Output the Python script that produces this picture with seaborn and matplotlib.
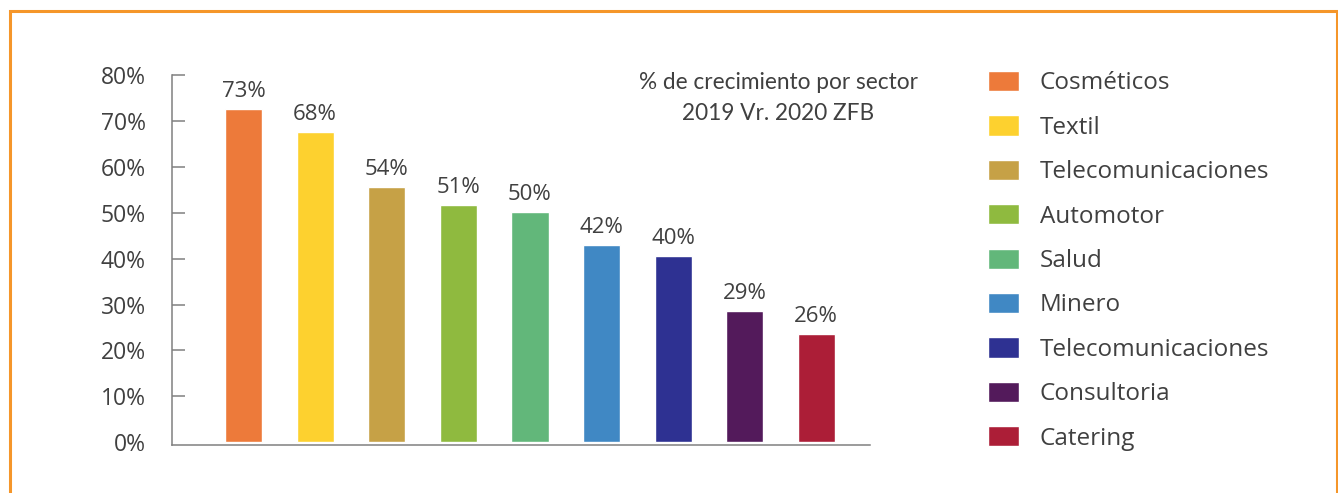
import numpy as np
import pandas as pd
import matplotlib
matplotlib.use("Agg")
import matplotlib.pyplot as plt
import matplotlib.patches as mpatches
import seaborn as sns

# datos del grafico
sectores = ["Cosméticos", "Textil", "Telecomunicaciones", "Automotor", "Salud",
            "Minero", "Telecomunicaciones", "Consultoria", "Catering"]
crecimiento = [72.7, 67.7, 55.6, 51.8, 50.2, 42.9, 40.5, 28.6, 23.6]
etiquetas = ["73%", "68%", "54%", "51%", "50%", "42%", "40%", "29%", "26%"]
colores = ["#ED7A3A", "#FDD12F", "#C6A146", "#8FBA3F", "#62B77A",
           "#4088C4", "#2E3192", "#531A5B", "#AC1E37"]
yticks = [0, 10, 20, 30, 40, 50, 60, 70, 80]
titulo = "% de crecimiento por sector\n2019 Vr. 2020 ZFB"

TEXT = "#404040"
GRIS = "#808080"

sns.set_style("white")
plt.rcParams["font.family"] = ["Open Sans", "DejaVu Sans"]

df = pd.DataFrame({"id": [str(i) for i in range(len(sectores))],
                   "sector": sectores, "valor": crecimiento})

fig = plt.figure(figsize=(13.38, 4.93), dpi=100)
ax = fig.add_axes([172 / 1338, 48.3 / 493, (870 - 172) / 1338, (444.7 - 75.5) / 493])

sns.barplot(data=df, x="id", y="valor", hue="id", palette=colores,
            width=0.52, saturation=1, legend=False, ax=ax)

ax.set_xlim(-1.0, 8.75)
ax.set_ylim(-0.6, 80)
ax.set_xlabel("")
ax.set_ylabel("")
ax.set_xticks([])
ax.set_yticks(yticks)
ax.set_yticklabels([f"{t}%" for t in yticks])
ax.tick_params(axis="y", left=True, direction="in", length=9.4, width=1.1,
               color=GRIS, pad=19, labelsize=16.5, labelcolor=TEXT)
# sin marca en el 0 (coincide con el eje)
ax.yaxis.get_major_ticks()[0].tick1line.set_visible(False)

sns.despine(ax=ax)
for s in ["left", "bottom"]:
    ax.spines[s].set_color(GRIS)
    ax.spines[s].set_linewidth(1.1)

# etiquetas de valor sobre cada barra
bars = ax.patches[:len(sectores)]
for bar, lab in zip(bars, etiquetas):
    ax.annotate(lab, (bar.get_x() + bar.get_width() / 2, bar.get_height()),
                xytext=(0, 5), textcoords="offset points",
                ha="center", va="bottom", fontsize=16, color=TEXT)

fig.text(778 / 1338, 1 - 98 / 493, titulo, ha="center", va="center",
         fontsize=16.3, color=TEXT, family="Lato", linespacing=1.6)

# leyenda
fig.legend(bars, sectores, loc="upper left",
           bbox_to_anchor=(988 / 1338, 1 - 71 / 493),
           frameon=False, fontsize=17.5, labelcolor=TEXT,
           handlelength=1.27, handleheight=0.9, handletextpad=0.86,
           labelspacing=0.82, borderpad=0, borderaxespad=0)

# marco naranja
marco = mpatches.Rectangle((10 / 1338, -0.2), (1337 - 10) / 1338, 1.2 - 11 / 493,
                           transform=fig.transFigure, fill=False,
                           edgecolor="#F5962A", linewidth=2.2, clip_on=False)
fig.patches.append(marco)

fig.savefig("out.png", dpi=100)
